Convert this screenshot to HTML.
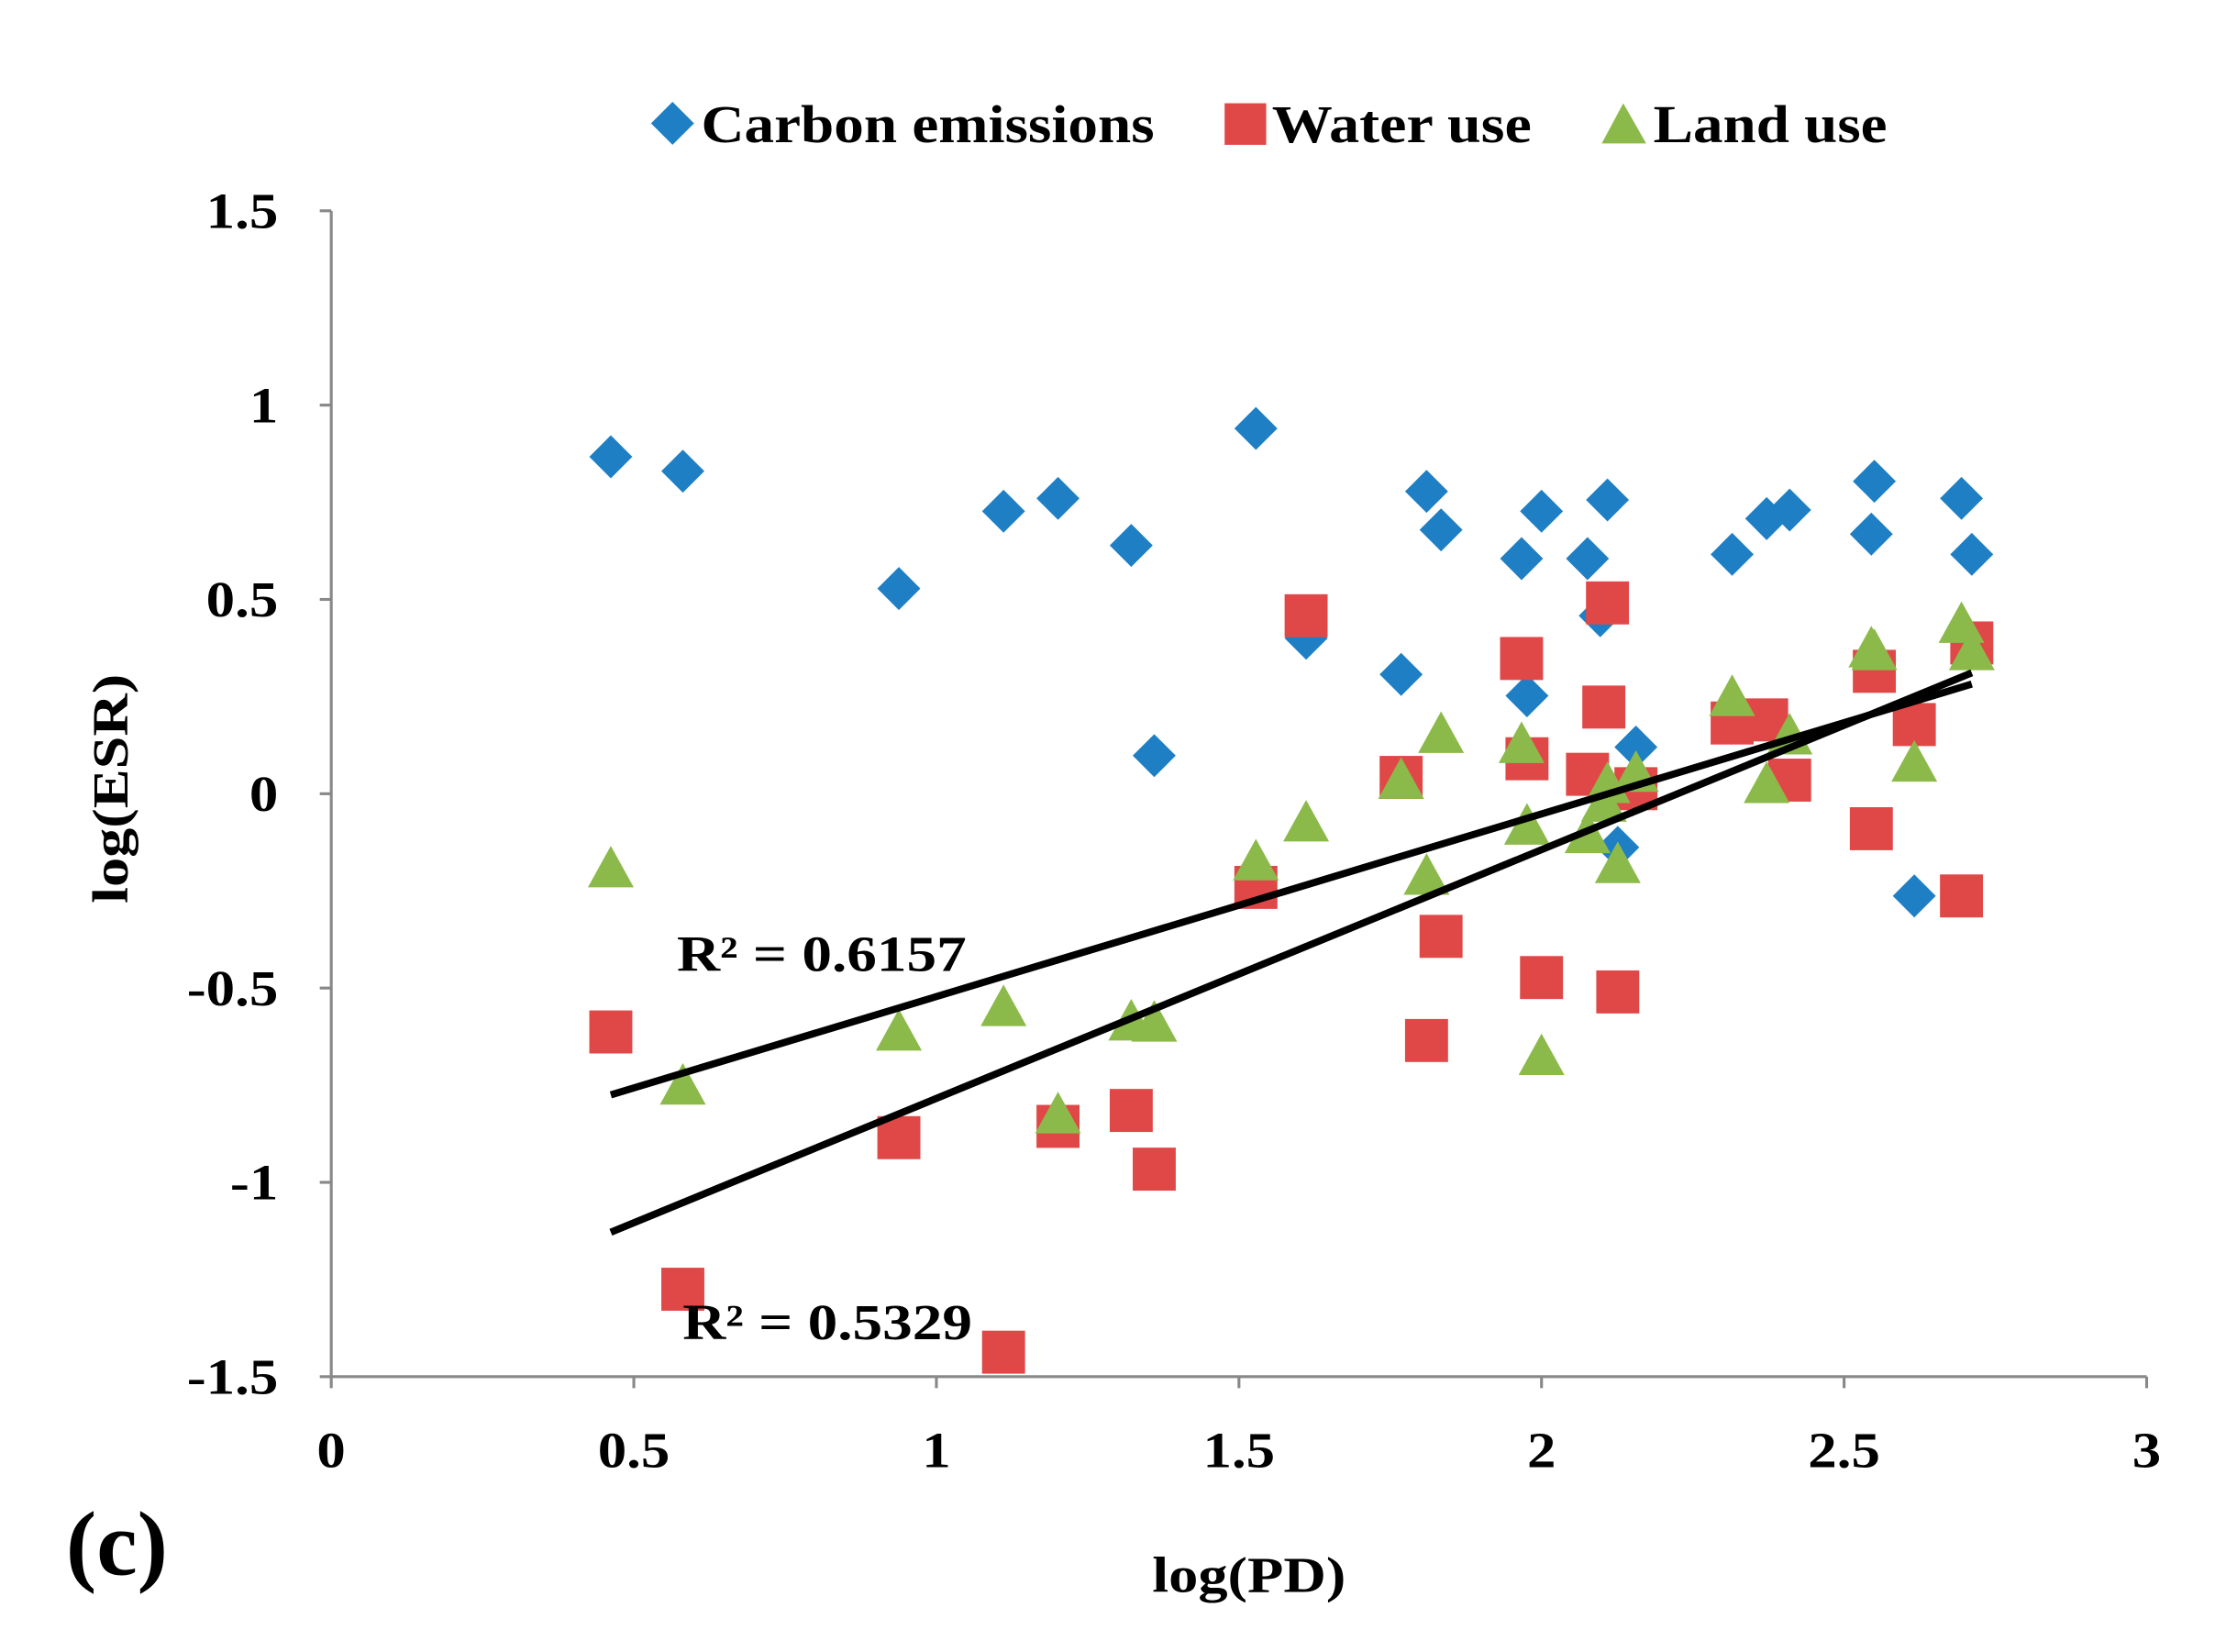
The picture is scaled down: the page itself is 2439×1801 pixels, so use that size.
<!DOCTYPE html>
<html><head><meta charset="utf-8"><style>
html,body{margin:0;padding:0;background:#fff;}
svg{display:block;}
text{font-family:"Liberation Serif",serif;font-weight:bold;fill:#000;}
</style></head><body>
<svg id="chart" width="2439" height="1801" viewBox="0 0 1560 1152" preserveAspectRatio="none" xmlns="http://www.w3.org/2000/svg">
<g id="legend">
 <g><polygon points="469,71 484,86 469,101 454,86" fill="#1f7fc4"/><text class="st" data-w="316" x="489" y="99" font-size="37">Carbon emissions</text></g>
 <g><rect x="854" y="72" width="29" height="29" fill="#e04848"/><text class="st" data-w="181" x="887" y="99" font-size="37">Water use</text></g>
 <g><polygon points="1132,72 1148,100 1117,100" fill="#8cba4a"/><text class="st" data-w="163" x="1153" y="99" font-size="37">Land use</text></g>
</g>
<g id="axes"></g>
<g id="marks"></g>
<text class="st" data-w="160" x="0" y="0" font-size="35" text-anchor="middle" transform="translate(89,550) rotate(-90)">log(ESR)</text>
<text class="st" data-w="135" x="871" y="1110" font-size="35" text-anchor="middle">log(PD)</text>
<text x="46" y="1098" font-size="64">(c)</text>
<text class="st" data-w="202" x="472" y="677" font-size="35">R² = 0.6157</text>
<text class="st" data-w="202" x="476" y="934" font-size="35">R² = 0.5329</text>
</svg>
<script>
const carbonX=[0.462,0.581,0.938,1.111,1.201,1.322,1.36,1.528,1.611,1.768,1.81,1.834,1.967,1.976,2.0,2.076,2.097,2.109,2.126,2.156,2.315,2.372,2.41,2.545,2.55,2.616,2.694,2.711];
const carbonY=[0.867,0.83,0.528,0.727,0.76,0.639,0.098,0.94,0.40,0.307,0.778,0.679,0.605,0.252,0.727,0.605,0.458,0.756,-0.138,0.12,0.616,0.708,0.73,0.668,0.804,-0.263,0.76,0.616];
const waterX=[0.462,0.581,0.938,1.111,1.201,1.322,1.36,1.528,1.611,1.768,1.81,1.834,1.967,1.976,2.0,2.076,2.103,2.109,2.126,2.156,2.315,2.372,2.41,2.545,2.55,2.616,2.694,2.711];
const waterY=[-0.613,-1.275,-0.885,-1.437,-0.856,-0.815,-0.966,-0.241,0.458,0.042,-0.635,-0.367,0.348,0.09,-0.473,0.05,0.223,0.491,-0.51,0.013,0.182,0.19,0.035,-0.09,0.315,0.178,-0.263,0.388];
const landX=[0.462,0.581,0.938,1.111,1.201,1.322,1.36,1.528,1.611,1.768,1.81,1.834,1.967,1.976,2.0,2.076,2.103,2.109,2.126,2.156,2.315,2.372,2.41,2.545,2.55,2.616,2.694,2.711];
const landY=[-0.193,-0.752,-0.613,-0.55,-0.826,-0.587,-0.59,-0.175,-0.075,0.035,-0.212,0.153,0.127,-0.083,-0.676,-0.105,-0.024,0.024,-0.182,0.053,0.248,0.024,0.149,0.373,0.366,0.079,0.436,0.366];
const trendSlopes=[0.470,0.640];
const trendIntercepts=[-0.992,-1.424];
const trendRange=[0.462,2.711];
const xTicks=[0,0.5,1,1.5,2,2.5,3];
const xTickLabels=["0","0.5","1","1.5","2","2.5","3"];
const yTicks=[1.5,1,0.5,0,-0.5,-1,-1.5];
const yTickLabels=["1.5","1","0.5","0","-0.5","-1","-1.5"];

const NS="http://www.w3.org/2000/svg";
const X=v=>231+(v-0)*(1497-231)/3;
const Y=v=>960-(v+1.5)*(960-147)/3;
function mk(tag,attrs,parent){const e=document.createElementNS(NS,tag);for(const k in attrs)e.setAttribute(k,attrs[k]);parent.appendChild(e);return e;}
const axes=document.getElementById('axes'),marks=document.getElementById('marks');
let a=mk('line',{x1:X(0),y1:Y(1.5),x2:X(0),y2:Y(-1.5),stroke:'#888','stroke-width':2},axes);


a=mk('line',{x1:X(0),y1:Y(-1.5),x2:X(3),y2:Y(-1.5),stroke:'#888','stroke-width':2},axes);


yTicks.forEach((v,i)=>{
 const t=mk('line',{x1:X(0)-8,y1:Y(v),x2:X(0),y2:Y(v),stroke:'#888','stroke-width':2},axes);
 
 
 const l=mk('text',{x:194,y:Y(v)+12,'font-size':35,'text-anchor':'end',class:'sc'},axes);l.textContent=yTickLabels[i];
 
 
});
xTicks.forEach((v,i)=>{
 const t=mk('line',{x1:X(v),y1:Y(-1.5),x2:X(v),y2:Y(-1.5)+8,stroke:'#888','stroke-width':2},axes);
 
 
 const l=mk('text',{x:X(v),y:1023,'font-size':35,'text-anchor':'middle',class:'sc'},axes);l.textContent=xTickLabels[i];
 
 
});
carbonX.forEach((xv,i)=>{const cx=X(xv),cy=Y(carbonY[i]);
 const p=mk('polygon',{points:`${cx},${cy-15} ${cx+15},${cy} ${cx},${cy+15} ${cx-15},${cy}`,fill:'#1f7fc4'},marks);
 
 });
waterX.forEach((xv,i)=>{const cx=X(xv),cy=Y(waterY[i]);
 const p=mk('rect',{x:cx-15,y:cy-15,width:30,height:30,fill:'#e04848'},marks);
 
 });
landX.forEach((xv,i)=>{const cx=X(xv),cy=Y(landY[i]);
 const p=mk('polygon',{points:`${cx},${cy-16} ${cx+16},${cy+13} ${cx-16},${cy+13}`,fill:'#8cba4a'},marks);
 
 });
trendSlopes.forEach((s,i)=>{const b=trendIntercepts[i];
 const l=mk('line',{x1:X(trendRange[0]),y1:Y(s*trendRange[0]+b),x2:X(trendRange[1]),y2:Y(s*trendRange[1]+b),stroke:'#000','stroke-width':5},marks);
 
 });
document.querySelectorAll('text.st').forEach(t=>{t.setAttribute('textLength',t.getAttribute('data-w'));t.setAttribute('lengthAdjust','spacingAndGlyphs');});
document.querySelectorAll('text.sc').forEach(t=>{const w=t.getComputedTextLength();t.setAttribute('textLength',(w*1.15).toFixed(1));t.setAttribute('lengthAdjust','spacingAndGlyphs');});
</script>
</body></html>
